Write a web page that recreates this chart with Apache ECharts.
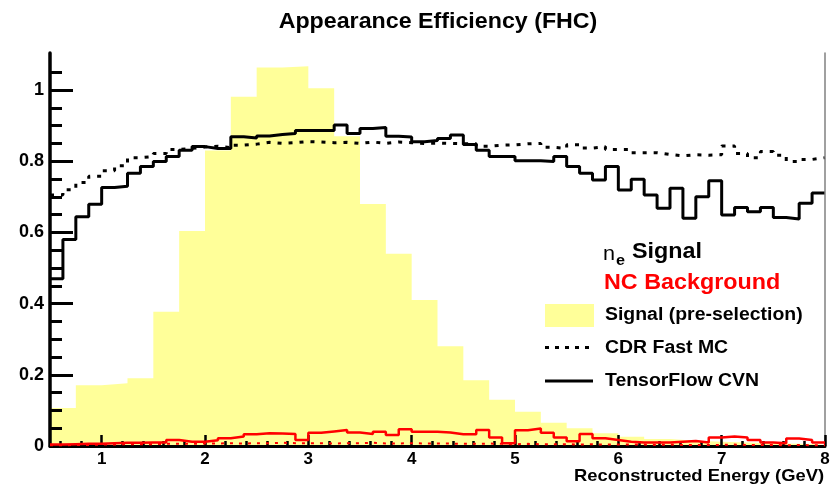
<!DOCTYPE html>
<html>
<head>
<meta charset="utf-8">
<script src="https://cdn.jsdelivr.net/npm/echarts@6/dist/echarts.min.js"></script>
<style>
  html, body { margin: 0; padding: 0; background: #ffffff; }
  #chart { width: 834px; height: 485px; }
</style>
</head>
<body>
<div id="chart"></div>
<script>
// ---- binning (GeV) ----
const energyMin = 0.5;
const energyMax = 8;
const coarseBinWidth = 0.25;   // pre-selection signal histogram
const fineBinWidth = 0.125;    // efficiency histograms

// ---- axis ticks ----
const xMajorTicks = [1, 2, 3, 4, 5, 6, 7, 8];
const xMinorTicks = [0.6, 0.8, 1.2, 1.4, 1.6, 1.8, 2.2, 2.4, 2.6, 2.8, 3.2, 3.4, 3.6, 3.8,
  4.2, 4.4, 4.6, 4.8, 5.2, 5.4, 5.6, 5.8, 6.2, 6.4, 6.6, 6.8, 7.2, 7.4, 7.6, 7.8];
const yMajorTicks = [0, 0.2, 0.4, 0.6, 0.8, 1];
const yMinorTicks = [0.05, 0.1, 0.15, 0.25, 0.3, 0.35, 0.45, 0.5, 0.55, 0.65, 0.7, 0.75,
  0.85, 0.9, 0.95, 1.05];

// ---- signal spectrum before selection (0.25 GeV bins, arbitrary scale) ----
const signalPreselection = [0.107, 0.171, 0.176, 0.19, 0.377, 0.604, 0.83, 0.981, 1.063, 1.067,
  1.005, 0.87, 0.68, 0.54, 0.41, 0.28, 0.185, 0.13, 0.096, 0.065,
  0.05, 0.036, 0.026, 0.02, 0.015, 0.012, 0.01, 0.008, 0.006, 0.005];

// ---- nu_e signal efficiency (0.125 GeV bins) ----
const signalCVN = [0.47, 0.58, 0.644, 0.679, 0.726, 0.73, 0.766, 0.785, 0.799, 0.813,
  0.831, 0.841, 0.836, 0.836, 0.869, 0.865, 0.871, 0.875, 0.878, 0.886,
  0.886, 0.886, 0.902, 0.878, 0.892, 0.895, 0.87, 0.868, 0.855, 0.858,
  0.864, 0.874, 0.847, 0.831, 0.813, 0.813, 0.801, 0.801, 0.799, 0.813,
  0.785, 0.766, 0.747, 0.785, 0.719, 0.749, 0.705, 0.668, 0.724, 0.640,
  0.700, 0.745, 0.649, 0.670, 0.658, 0.670, 0.642, 0.638, 0.682, 0.711];

const signalFastMC = [0.705, 0.72, 0.74, 0.758, 0.773, 0.787, 0.81, 0.813, 0.822, 0.833,
  0.836, 0.84, 0.842, 0.838, 0.845, 0.848, 0.853, 0.85, 0.852, 0.855,
  0.854, 0.852, 0.853, 0.85, 0.854, 0.85, 0.854, 0.852, 0.85, 0.851,
  0.85, 0.849, 0.849, 0.842, 0.845, 0.846, 0.849, 0.85, 0.839, 0.836,
  0.846, 0.837, 0.841, 0.833, 0.833, 0.824, 0.824, 0.819, 0.815, 0.818,
  0.817, 0.818, 0.843, 0.822, 0.81, 0.827, 0.817, 0.799, 0.805, 0.81];

// ---- NC background efficiency (0.125 GeV bins) ----
const backgroundCVN = [0.004, 0.005, 0.006, 0.006, 0.008, 0.009, 0.009, 0.01, 0.01, 0.017,
  0.012, 0.012, 0.016, 0.022, 0.027, 0.033, 0.036, 0.035, 0.034, 0.017,
  0.037, 0.041, 0.045, 0.038, 0.034, 0.04, 0.031, 0.047, 0.04, 0.04,
  0.038, 0.033, 0.033, 0.045, 0.024, 0.008, 0.044, 0.049, 0.037, 0.024,
  0.013, 0.034, 0.022, 0.017, 0.012, 0.01, 0.01, 0.01, 0.012, 0.014,
  0.01, 0.024, 0.027, 0.024, 0.017, 0.01, 0.008, 0.021, 0.017, 0.01];

const backgroundFastMC = [0.002, 0.003, 0.003, 0.004, 0.004, 0.005, 0.005, 0.005, 0.006, 0.006,
  0.006, 0.007, 0.007, 0.008, 0.007, 0.008, 0.008, 0.009, 0.008, 0.008,
  0.008, 0.007, 0.008, 0.008, 0.009, 0.007, 0.007, 0.008, 0.007, 0.007,
  0.007, 0.006, 0.006, 0.007, 0.006, 0.005, 0.006, 0.005, 0.005, 0.005,
  0.004, 0.005, 0.004, 0.004, 0.004, 0.004, 0.003, 0.004, 0.003, 0.003,
  0.003, 0.003, 0.004, 0.003, 0.003, 0.003, 0.002, 0.003, 0.002, 0.002];

// Turn per-bin contents into step-line points at the lower bin edges,
// closed with the last content at the upper edge.
function histogramPoints(contents, binWidth) {
  const pts = contents.map((v, i) => [energyMin + i * binWidth, v]);
  pts.push([energyMin + contents.length * binWidth, contents[contents.length - 1]]);
  return pts;
}

const FONT = "'Liberation Sans', Arial, Helvetica, sans-serif";
const STRETCH = 1.08;
const Y_MAX = 1.104;

const chart = echarts.init(document.getElementById('chart'), null, { renderer: 'canvas' });

const hidden = { show: false };

chart.setOption({
  animation: false,
  backgroundColor: '#ffffff',
  grid: { left: 50, right: 9, top: 53, bottom: 39, containLabel: false },
  xAxis: [
    {
      type: 'value', min: energyMin, max: energyMax, position: 'bottom', z: 6,
      axisLine: { show: true, lineStyle: { color: '#000', width: 3 } },
      axisTick: { show: true, inside: true, length: 11, customValues: xMajorTicks,
        lineStyle: { color: '#000', width: 2.5 } },
      axisLabel: { show: true, customValues: xMajorTicks, margin: 5,
        color: '#000', fontFamily: FONT, fontWeight: 'bold', fontSize: 17 },
      splitLine: hidden
    },
    {
      type: 'value', min: energyMin, max: energyMax, position: 'bottom', z: 6,
      axisLine: hidden,
      axisTick: { show: true, inside: true, length: 5, customValues: xMinorTicks,
        lineStyle: { color: '#000', width: 2.5 } },
      axisLabel: hidden, splitLine: hidden
    },
    {
      type: 'value', min: energyMin, max: energyMax, position: 'top', z: 6,
      axisLine: { show: true, lineStyle: { color: '#000', width: 2 } },
      axisTick: hidden, axisLabel: hidden, splitLine: hidden
    }
  ],
  yAxis: [
    {
      type: 'value', min: 0, max: Y_MAX, position: 'left', z: 6,
      axisLine: { show: true, lineStyle: { color: '#000', width: 3.5 } },
      axisTick: { show: true, inside: true, length: 23, customValues: yMajorTicks,
        lineStyle: { color: '#000', width: 3 } },
      axisLabel: { show: true, customValues: yMajorTicks, margin: 6,
        color: '#000', fontFamily: FONT, fontWeight: 'bold', fontSize: 18 },
      splitLine: hidden
    },
    {
      type: 'value', min: 0, max: Y_MAX, position: 'left', z: 6,
      axisLine: hidden,
      axisTick: { show: true, inside: true, length: 12, customValues: yMinorTicks,
        lineStyle: { color: '#000', width: 3 } },
      axisLabel: hidden, splitLine: hidden
    },
    {
      type: 'value', min: 0, max: Y_MAX, position: 'right', z: 6,
      axisLine: { show: true, lineStyle: { color: '#808080', width: 1.5 } },
      axisTick: hidden, axisLabel: hidden, splitLine: hidden
    }
  ],
  series: [
    {
      name: 'Signal (pre-selection)', type: 'line', step: 'end', z: 1,
      xAxisIndex: 0, yAxisIndex: 0, symbol: 'none',
      data: histogramPoints(signalPreselection, coarseBinWidth),
      lineStyle: { width: 0, color: '#ffff99' },
      areaStyle: { color: '#ffff99', opacity: 1 }
    },
    {
      name: 'CDR Fast MC', type: 'line', step: 'end', z: 3,
      xAxisIndex: 0, yAxisIndex: 0, symbol: 'none',
      data: histogramPoints(signalFastMC, fineBinWidth),
      lineStyle: { color: '#000', width: 3, type: [4, 7] }
    },
    {
      name: 'TensorFlow CVN', type: 'line', step: 'end', z: 4,
      xAxisIndex: 0, yAxisIndex: 0, symbol: 'none',
      data: histogramPoints(signalCVN, fineBinWidth),
      lineStyle: { color: '#000', width: 3 }
    },
    {
      name: 'NC Background CDR Fast MC', type: 'line', step: 'end', z: 7,
      xAxisIndex: 0, yAxisIndex: 0, symbol: 'none',
      data: histogramPoints(backgroundFastMC, fineBinWidth),
      lineStyle: { color: '#ff0000', width: 2, type: [3, 6] }
    },
    {
      name: 'NC Background TensorFlow CVN', type: 'line', step: 'end', z: 7,
      xAxisIndex: 0, yAxisIndex: 0, symbol: 'none',
      data: histogramPoints(backgroundCVN, fineBinWidth),
      lineStyle: { color: '#ff0000', width: 2.5 }
    }
  ],
  graphic: [
    // title
    { type: 'text', x: 438, y: 22.5, scaleX: STRETCH,
      style: { text: 'Appearance Efficiency (FHC)', font: 'bold 21.5px ' + FONT, fill: '#000',
        textAlign: 'center', textVerticalAlign: 'middle' } },
    // axis title
    { type: 'text', x: 824, y: 476, scaleX: STRETCH,
      style: { text: 'Reconstructed Energy (GeV)', font: 'bold 17px ' + FONT, fill: '#000',
        textAlign: 'right', textVerticalAlign: 'middle' } },
    // legend headers
    { type: 'text', x: 603, y: 254, scaleX: STRETCH,
      style: { text: 'n', font: '20px ' + FONT, fill: '#000', textAlign: 'left', textVerticalAlign: 'middle' } },
    { type: 'text', x: 616, y: 261, scaleX: STRETCH,
      style: { text: 'e', font: 'bold 15px ' + FONT, fill: '#000', textAlign: 'left', textVerticalAlign: 'middle' } },
    { type: 'text', x: 632, y: 252.5, scaleX: STRETCH,
      style: { text: 'Signal', font: 'bold 21.6px ' + FONT, fill: '#000', textAlign: 'left', textVerticalAlign: 'middle' } },
    { type: 'text', x: 604, y: 283.5, scaleX: STRETCH,
      style: { text: 'NC Background', font: 'bold 21.6px ' + FONT, fill: '#ff0000', textAlign: 'left', textVerticalAlign: 'middle' } },
    // legend entries
    { type: 'rect', shape: { x: 545, y: 304, width: 49, height: 23 }, style: { fill: '#ffff99' } },
    { type: 'text', x: 605, y: 314.7, scaleX: STRETCH,
      style: { text: 'Signal (pre-selection)', font: 'bold 18px ' + FONT, fill: '#000', textAlign: 'left', textVerticalAlign: 'middle' } },
    { type: 'line', shape: { x1: 545, y1: 347.5, x2: 593, y2: 347.5 },
      style: { stroke: '#000', lineWidth: 3, lineDash: [4, 6] } },
    { type: 'text', x: 605, y: 347.7, scaleX: STRETCH,
      style: { text: 'CDR Fast MC', font: 'bold 18px ' + FONT, fill: '#000', textAlign: 'left', textVerticalAlign: 'middle' } },
    { type: 'line', shape: { x1: 545, y1: 381, x2: 593, y2: 381 },
      style: { stroke: '#000', lineWidth: 3 } },
    { type: 'text', x: 605, y: 380.7, scaleX: STRETCH,
      style: { text: 'TensorFlow CVN', font: 'bold 18px ' + FONT, fill: '#000', textAlign: 'left', textVerticalAlign: 'middle' } }
  ]
});
</script>
</body>
</html>
